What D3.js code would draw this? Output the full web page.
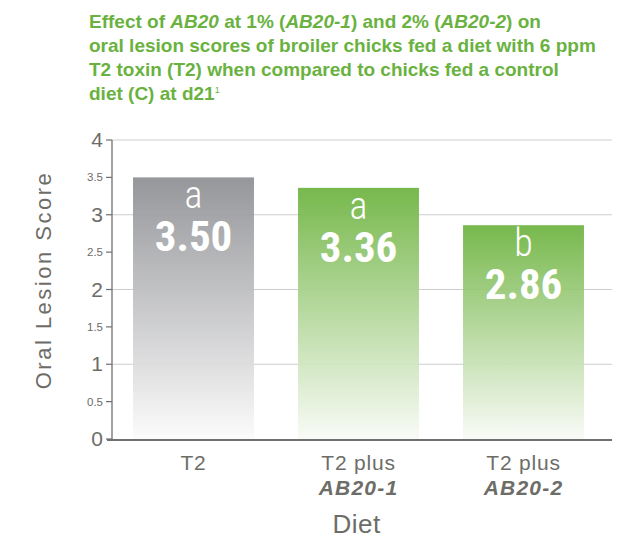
<!DOCTYPE html>
<html>
<head>
<meta charset="utf-8">
<script src="https://cdn.jsdelivr.net/npm/d3@7"></script>
<style>
  body { margin: 0; background: #fff; }
  text { font-family: "Liberation Sans", Arial, sans-serif; }
</style>
</head>
<body>
<svg id="chart" width="634" height="539"></svg>
<script>
// --- data ---
const diets = ["T2", "T2 plus AB20-1", "T2 plus AB20-2"];
const dietLine1 = ["T2", "T2 plus", "T2 plus"];
const dietLine2 = ["", "AB20-1", "AB20-2"];
const scores = [3.50, 3.36, 2.86];
const letters = ["a", "a", "b"];
const majorTicks = [0, 1, 2, 3, 4];
const minorTicks = [0.5, 1.5, 2.5, 3.5];

const svg = d3.select("#chart");
const width = 634, height = 539;
const margin = { top: 140, right: 22, bottom: 100, left: 112 };
const green = "#6ab23f";
const axisGray = "#707070";
const textGray = "#6d6d68";

// gradients
const defs = svg.append("defs");
const grads = [
  { id: "gGray", top: "#8e8f93", bottom: "#fbfbfb" },
  { id: "gGreen", top: "#6db33f", bottom: "#f9fbf6" }
];
grads.forEach(g => {
  const lg = defs.append("linearGradient").attr("id", g.id)
    .attr("x1", 0).attr("y1", 0).attr("x2", 0).attr("y2", 1);
  lg.append("stop").attr("offset", "0%").attr("stop-color", g.top);
  lg.append("stop").attr("offset", "100%").attr("stop-color", g.bottom);
});

// --- skala ---
const x = d3.scaleBand()
  .domain(diets)
  .range([margin.left - 1, 606])
  .paddingInner(0.267)
  .paddingOuter(0.1335);

const y = d3.scaleLinear()
  .domain([0, 4])
  .range([height - margin.bottom, margin.top]);

// gridlines
svg.append("g").selectAll("line").data(majorTicks.filter(d => d > 0)).enter().append("line")
  .attr("x1", margin.left).attr("x2", 612)
  .attr("y1", d => y(d)).attr("y2", d => y(d))
  .attr("stroke", "#cdcdcd").attr("stroke-width", 1.2);

// bars
svg.append("g").selectAll("rect").data(scores).enter().append("rect")
  .attr("x", (d, i) => x(diets[i]))
  .attr("y", d => y(d))
  .attr("width", x.bandwidth())
  .attr("height", d => y(0) - y(d))
  .attr("fill", (d, i) => i === 0 ? "url(#gGray)" : "url(#gGreen)")
  .attr("opacity", 0.93);

// bar labels
const lbl = svg.append("g").attr("text-anchor", "middle").attr("fill", "#fff");
lbl.selectAll("text.letter").data(scores).enter().append("text")
  .attr("class", "letter")
  .attr("x", (d, i) => x(diets[i]) + x.bandwidth() / 2)
  .attr("y", d => y(d) + 31)
  .style("font-family", "'Roboto Condensed', sans-serif")
  .attr("font-size", 38).attr("font-weight", 300)
  .text((d, i) => letters[i]);
lbl.selectAll("text.val").data(scores).enter().append("text")
  .attr("class", "val")
  .attr("x", (d, i) => x(diets[i]) + x.bandwidth() / 2)
  .attr("y", d => y(d) + 74)
  .style("font-family", "'Roboto Condensed', sans-serif")
  .attr("font-size", 43).attr("font-weight", "bold")
  .text(d => d.toFixed(2));

// y axis
svg.append("line")
  .attr("x1", margin.left).attr("x2", margin.left)
  .attr("y1", y(4)).attr("y2", y(0))
  .attr("stroke", axisGray).attr("stroke-width", 1.3);
svg.append("g").selectAll("line").data(majorTicks.concat(minorTicks)).enter().append("line")
  .attr("x1", margin.left - 6).attr("x2", margin.left)
  .attr("y1", d => y(d)).attr("y2", d => y(d))
  .attr("stroke", axisGray).attr("stroke-width", 1.2);
svg.append("g").selectAll("text").data(majorTicks).enter().append("text")
  .attr("x", margin.left - 9).attr("y", d => y(d) + 7)
  .attr("text-anchor", "end").attr("font-size", 21).attr("fill", textGray)
  .text(d => d);
svg.append("g").selectAll("text").data(minorTicks).enter().append("text")
  .attr("x", margin.left - 9).attr("y", d => y(d) + 4)
  .attr("text-anchor", "end").attr("font-size", 11.5).attr("fill", textGray)
  .text(d => d);

// x axis
svg.append("line")
  .attr("x1", 107).attr("x2", 612)
  .attr("y1", y(0) + 1).attr("y2", y(0) + 1)
  .attr("stroke", axisGray).attr("stroke-width", 2.2);

const xl = svg.append("g").attr("text-anchor", "middle").attr("fill", textGray)
  .attr("font-size", 21);
xl.selectAll("text.l1").data(diets).enter().append("text")
  .attr("class", "l1")
  .attr("x", d => x(d) + x.bandwidth() / 2)
  .attr("y", 470)
  .attr("letter-spacing", 0.8)
  .text((d, i) => dietLine1[i]);
xl.selectAll("text.l2").data(diets).enter().append("text")
  .attr("class", "l2")
  .attr("x", d => x(d) + x.bandwidth() / 2)
  .attr("y", 495)
  .attr("letter-spacing", 1.2)
  .attr("font-weight", "bold").attr("font-style", "italic")
  .text((d, i) => dietLine2[i]);

// axis titles
svg.append("text")
  .attr("x", (x(diets[0]) + x(diets[2]) + x.bandwidth()) / 2 - 2).attr("y", 533)
  .attr("text-anchor", "middle").attr("font-size", 26).attr("fill", textGray)
  .attr("letter-spacing", 0.5)
  .text("Diet");
svg.append("text")
  .attr("transform", "translate(51,280) rotate(-90)")
  .attr("text-anchor", "middle").attr("font-size", 22).attr("fill", textGray)
  .attr("letter-spacing", 2.5)
  .text("Oral Lesion Score");

// title
const titleLines = [
  [["Effect of ", ""], ["AB20", "i"], [" at 1% (", ""], ["AB20-1", "i"], [") and 2% (", ""], ["AB20-2", "i"], [") on", ""]],
  [["oral lesion scores of broiler chicks fed a diet with 6 ppm", ""]],
  [["T2 toxin (T2) when compared to chicks fed a control", ""]],
  [["diet (C) at d21", ""], ["1", "sup"]]
];
const title = svg.append("text").attr("fill", green).attr("font-weight", "bold")
  .attr("font-size", 19);
titleLines.forEach((line, li) => {
  line.forEach((seg, si) => {
    const t = title.append("tspan").text(seg[0]);
    if (si === 0) t.attr("x", 89).attr("y", 28 + li * 24);
    if (seg[1] === "i") t.attr("font-style", "italic");
    if (seg[1] === "sup") t.attr("font-size", 9).attr("dy", -7).attr("font-weight", "normal");
  });
});
</script>
</body>
</html>
